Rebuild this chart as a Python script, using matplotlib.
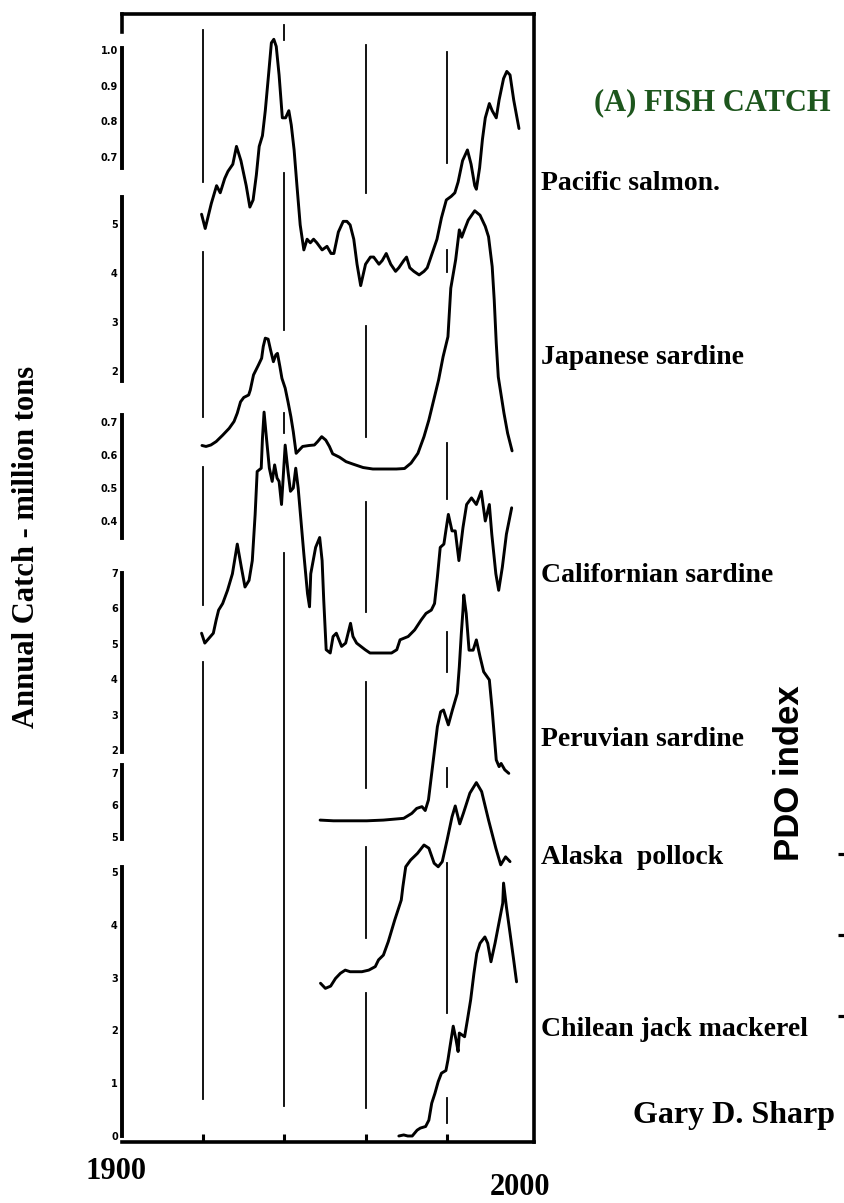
import matplotlib
matplotlib.use("Agg")
import matplotlib.pyplot as plt

# ── data (year, catch in the units of each scale bar) ──
GRID_YEARS = [1920, 1940, 1960, 1980]

SALMON = [
    (1919.6, 0.54), (1920.5, 0.50), (1922.0, 0.57), (1923.3, 0.62), (1924.2, 0.60),
    (1925.3, 0.64), (1926.1, 0.66), (1927.3, 0.68), (1928.2, 0.73), (1929.3, 0.69),
    (1930.6, 0.62), (1931.5, 0.56), (1932.3, 0.58), (1933.1, 0.65), (1933.8, 0.73),
    (1934.6, 0.76), (1935.3, 0.83), (1936.1, 0.93), (1936.8, 1.02), (1937.4, 1.03),
    (1938.0, 1.01), (1938.7, 0.93), (1939.5, 0.81), (1940.3, 0.81), (1941.1, 0.83),
    (1941.7, 0.79), (1942.4, 0.72), (1943.1, 0.62), (1943.9, 0.51), (1944.8, 0.44),
    (1945.6, 0.47), (1946.4, 0.46), (1947.2, 0.47), (1948.0, 0.46), (1949.3, 0.44),
    (1950.5, 0.45), (1951.5, 0.43), (1952.2, 0.43), (1953.3, 0.49), (1954.5, 0.52),
    (1955.4, 0.52), (1956.2, 0.51), (1957.1, 0.47), (1957.9, 0.40), (1958.8, 0.34),
    (1960.0, 0.40), (1961.2, 0.42), (1962.0, 0.42), (1963.3, 0.40), (1964.1, 0.41),
    (1965.1, 0.43), (1966.2, 0.40), (1967.4, 0.38), (1968.2, 0.39), (1969.4, 0.41),
    (1970.1, 0.42), (1970.9, 0.39), (1971.9, 0.38), (1973.2, 0.37), (1974.4, 0.38),
    (1975.2, 0.39), (1976.4, 0.43), (1977.6, 0.47), (1978.7, 0.53), (1979.9, 0.58),
    (1981.1, 0.59), (1982.0, 0.60), (1982.8, 0.63), (1983.9, 0.69), (1985.1, 0.72),
    (1986.0, 0.68), (1986.9, 0.62), (1987.3, 0.61), (1988.1, 0.67), (1988.8, 0.75),
    (1989.5, 0.81), (1990.5, 0.85), (1991.2, 0.83), (1992.2, 0.81), (1992.9, 0.86),
    (1994.0, 0.92), (1994.8, 0.94), (1995.6, 0.93), (1996.5, 0.86), (1997.8, 0.78),
]

JAPANESE = [
    (1919.7, 0.48), (1920.7, 0.46), (1921.9, 0.49), (1923.2, 0.56), (1924.8, 0.69),
    (1926.4, 0.83), (1927.6, 0.97), (1928.4, 1.14), (1929.2, 1.37), (1930.0, 1.46),
    (1931.2, 1.51), (1931.6, 1.61), (1932.4, 1.92), (1933.6, 2.12), (1934.4, 2.26),
    (1934.8, 2.50), (1935.3, 2.67), (1936.0, 2.65), (1936.6, 2.43), (1937.3, 2.19),
    (1937.9, 2.33), (1938.3, 2.36), (1938.9, 2.09), (1939.4, 1.85), (1940.2, 1.65),
    (1940.9, 1.37), (1941.6, 1.07), (1942.2, 0.76), (1942.9, 0.32), (1943.7, 0.39),
    (1944.5, 0.46), (1946.1, 0.48), (1947.4, 0.49), (1948.2, 0.56), (1949.2, 0.66),
    (1950.2, 0.59), (1951.1, 0.46), (1951.9, 0.31), (1953.6, 0.24), (1955.2, 0.15),
    (1956.9, 0.10), (1959.4, 0.03), (1961.8, 0.00), (1964.3, 0.00), (1967.6, 0.00),
    (1969.6, 0.01), (1971.2, 0.12), (1972.9, 0.32), (1974.4, 0.66), (1975.6, 1.00),
    (1976.8, 1.41), (1978.0, 1.82), (1979.1, 2.29), (1980.3, 2.70), (1981.0, 3.69),
    (1982.2, 4.27), (1983.1, 4.88), (1983.7, 4.73), (1984.5, 4.91), (1985.3, 5.08),
    (1986.9, 5.27), (1988.2, 5.18), (1989.5, 4.95), (1990.3, 4.74), (1991.2, 4.13),
    (1991.7, 3.45), (1992.2, 2.57), (1992.7, 1.88), (1994.1, 1.14), (1995.0, 0.73),
    (1996.1, 0.37),
]

CALIFORNIAN = [
    (1919.6, 0.06), (1920.4, 0.03), (1922.5, 0.06), (1923.2, 0.10), (1923.8, 0.13),
    (1924.8, 0.15), (1926.0, 0.19), (1927.2, 0.24), (1928.4, 0.33), (1929.4, 0.26),
    (1930.3, 0.20), (1931.3, 0.22), (1932.1, 0.28), (1932.8, 0.42), (1933.3, 0.55),
    (1934.3, 0.56), (1934.6, 0.65), (1935.0, 0.73), (1935.6, 0.65), (1936.3, 0.56),
    (1937.0, 0.52), (1937.6, 0.57), (1938.2, 0.53), (1938.7, 0.52), (1939.3, 0.45),
    (1939.8, 0.55), (1940.2, 0.63), (1940.9, 0.55), (1941.5, 0.49), (1942.2, 0.50),
    (1942.8, 0.56), (1943.4, 0.50), (1944.1, 0.40), (1944.8, 0.30), (1945.7, 0.18),
    (1946.2, 0.14), (1946.5, 0.24), (1947.7, 0.32), (1948.7, 0.35), (1949.3, 0.28),
    (1949.7, 0.16), (1949.9, 0.11), (1950.3, 0.01), (1951.3, 0.00), (1952.0, 0.05),
    (1952.8, 0.06), (1954.1, 0.02), (1955.1, 0.03), (1956.3, 0.09), (1956.9, 0.05),
    (1957.8, 0.03), (1959.9, 0.01), (1961.1, 0.00), (1962.3, 0.00), (1963.2, 0.00),
    (1966.4, 0.00), (1967.7, 0.01), (1968.5, 0.04), (1970.5, 0.05), (1972.1, 0.07),
    (1973.7, 0.10), (1974.9, 0.12), (1976.2, 0.13), (1977.0, 0.15), (1977.7, 0.23),
    (1978.4, 0.32), (1979.3, 0.33), (1979.9, 0.38), (1980.4, 0.42), (1981.3, 0.37),
    (1982.1, 0.37), (1983.0, 0.28), (1984.0, 0.38), (1984.9, 0.45), (1986.1, 0.47),
    (1987.3, 0.45), (1988.5, 0.49), (1989.5, 0.40), (1990.5, 0.45), (1991.1, 0.36),
    (1992.1, 0.24), (1992.8, 0.19), (1993.7, 0.26), (1994.7, 0.36), (1996.0, 0.44),
]

PERUVIAN = [
    (1948.8, 0.02), (1952.1, 0.00), (1956.2, 0.00), (1960.3, 0.00), (1964.4, 0.02),
    (1969.4, 0.07), (1971.4, 0.21), (1972.6, 0.35), (1973.9, 0.40), (1974.7, 0.29),
    (1975.5, 0.59), (1976.2, 1.25), (1977.0, 2.00), (1977.7, 2.66), (1978.5, 3.08),
    (1979.2, 3.13), (1980.4, 2.71), (1981.4, 3.13), (1982.6, 3.60), (1983.1, 4.35),
    (1983.6, 5.30), (1984.0, 5.95), (1984.2, 6.38), (1984.8, 5.86), (1985.5, 4.82),
    (1986.5, 4.82), (1987.3, 5.11), (1988.2, 4.64), (1989.1, 4.21), (1990.5, 3.98),
    (1991.2, 3.13), (1992.2, 1.72), (1992.9, 1.53), (1993.4, 1.62), (1994.3, 1.44),
    (1995.3, 1.34),
]

POLLOCK = [
    (1948.9, 0.43), (1950.1, 0.27), (1951.4, 0.34), (1952.6, 0.58), (1953.8, 0.74),
    (1955.0, 0.84), (1956.2, 0.79), (1959.1, 0.79), (1960.8, 0.84), (1962.4, 0.95),
    (1963.2, 1.16), (1964.4, 1.31), (1965.6, 1.73), (1967.2, 2.41), (1968.8, 3.03),
    (1969.2, 3.45), (1969.9, 4.07), (1971.1, 4.28), (1972.8, 4.49), (1974.4, 4.75),
    (1975.6, 4.65), (1976.9, 4.18), (1977.9, 4.07), (1978.9, 4.23), (1980.1, 4.91),
    (1981.3, 5.63), (1982.1, 5.97), (1983.2, 5.41), (1984.1, 5.74), (1985.7, 6.37),
    (1987.3, 6.70), (1988.6, 6.42), (1990.3, 5.53), (1992.1, 4.65), (1993.3, 4.13),
    (1994.5, 4.38), (1995.6, 4.23),
]

MACKEREL = [
    (1968.2, 0.00), (1969.4, 0.02), (1970.4, 0.00), (1971.5, 0.00), (1972.7, 0.11),
    (1973.5, 0.15), (1974.8, 0.18), (1975.6, 0.30), (1976.3, 0.62), (1977.1, 0.81),
    (1977.9, 1.03), (1978.7, 1.19), (1979.8, 1.24), (1980.3, 1.44), (1980.8, 1.69),
    (1981.6, 2.08), (1982.3, 1.82), (1982.8, 1.60), (1983.1, 1.95), (1984.4, 1.88),
    (1985.1, 2.20), (1985.9, 2.58), (1986.7, 3.08), (1987.4, 3.46), (1988.2, 3.65),
    (1989.4, 3.77), (1990.1, 3.65), (1990.9, 3.30), (1991.9, 3.65), (1993.0, 4.09),
    (1993.8, 4.41), (1994.0, 4.79), (1994.7, 4.34), (1995.6, 3.84), (1996.5, 3.33),
    (1997.2, 2.92),
]

SALMON_TICKS = [0.7, 0.8, 0.9, 1.0]
JAPANESE_TICKS = [2, 3, 4, 5]
CALIFORNIAN_TICKS = [0.4, 0.5, 0.6, 0.7]
PERUVIAN_TICKS = [2, 3, 4, 5, 6, 7]
POLLOCK_TICKS = [5, 6, 7]
MACKEREL_TICKS = [0, 1, 2, 3, 4, 5]

LABELS = ["Pacific salmon.", "Japanese sardine", "Californian sardine",
          "Peruvian sardine", "Alaska  pollock", "Chilean jack mackerel"]

# ── layout (pixels of the 845 x 1203 canvas) ──
W, H = 845, 1203
PLOT_L, PLOT_R, PLOT_T, PLOT_B = 122, 534, 14, 1142
X_MIN, X_MAX = 1900, 2001.5

def fx(px):
    return px / W

def fy(py):
    return 1 - py / H

plt.rcParams["font.family"] = ["Liberation Serif", "DejaVu Serif"]
fig = plt.figure(figsize=(W / 100, H / 100), dpi=100)
rect = [fx(PLOT_L), fy(PLOT_B), (PLOT_R - PLOT_L) / W, (PLOT_B - PLOT_T) / H]

# frame + broken decade lines
main = fig.add_axes(rect)
main.set_xlim(X_MIN, X_MAX)
main.set_ylim(0, 1)
main.set_yticks([])
main.set_xticks(GRID_YEARS)
main.set_xticklabels([])
main.tick_params(axis="x", direction="in", length=6, width=2.2)
for side in ["top", "right", "bottom", "left"]:
    main.spines[side].set_linewidth(2.6)
main.spines["left"].set_bounds(1 - 18 / (PLOT_B - PLOT_T), 1)

# pixel rows where the scanned decade lines are visible
GRID_SEGMENTS = {
    1920: [(30, 182), (252, 417), (467, 605), (662, 1099)],
    1940: [(25, 40), (173, 330), (413, 433), (553, 1106)],
    1960: [(45, 193), (326, 437), (502, 612), (682, 788), (847, 938), (993, 1108)],
    1980: [(52, 163), (250, 272), (443, 499), (632, 672), (768, 787), (863, 1013), (1098, 1123)],
}
span = PLOT_B - PLOT_T
for yr in GRID_YEARS:
    for top, bot in GRID_SEGMENTS[yr]:
        main.axvline(yr, ymin=(PLOT_B - bot) / span, ymax=(PLOT_B - top) / span,
                     color="black", lw=1.3)

main.annotate("1900", xy=(1900, 0), xycoords=main.get_xaxis_transform(),
              xytext=(-4, -21), textcoords="offset points",
              ha="center", va="center", fontsize=22, fontweight="bold")
main.annotate("2000", xy=(2000, 0), xycoords=main.get_xaxis_transform(),
              xytext=(-6, -33), textcoords="offset points",
              ha="center", va="center", fontsize=22, fontweight="bold")

# one transparent axes per species, each with its own scale bar on the left
# (anchor value, pixel row of that value, pixels per unit, spine bounds)
series = [
    (SALMON, SALMON_TICKS, ["1.0", "0.9", "0.8", "0.7"][::-1], (1.0, 50, 357), (0.67, 1.005)),
    (JAPANESE, JAPANESE_TICKS, ["2", "3", "4", "5"], (5, 224, 49), (1.8, 5.55)),
    (CALIFORNIAN, CALIFORNIAN_TICKS, ["0.4", "0.5", "0.6", "0.7"], (0.7, 422, 330), (0.35, 0.72)),
    (PERUVIAN, PERUVIAN_TICKS, ["2", "3", "4", "5", "6", "7"], (7, 573, 35.4), (1.95, 7.0)),
    (POLLOCK, POLLOCK_TICKS, ["5", "6", "7"], (7, 773, 32), (4.95, 7.25)),
    (MACKEREL, MACKEREL_TICKS, ["0", "1", "2", "3", "4", "5"], (5, 872, 52.8), (0, 5.1)),
]

for data, ticks, tlabels, (v0, y0, k), bounds in series:
    ax = fig.add_axes(rect, sharex=main)
    ax.patch.set_alpha(0)
    ax.set_ylim(v0 - (PLOT_B - y0) / k, v0 + (y0 - PLOT_T) / k)
    for side in ["top", "right", "bottom"]:
        ax.spines[side].set_visible(False)
    ax.spines["left"].set_linewidth(2.8)
    ax.spines["left"].set_bounds(*bounds)
    ax.tick_params(axis="x", bottom=False, labelbottom=False)
    ax.set_yticks(ticks, labels=tlabels, fontsize=7, fontweight="bold",
                  family="DejaVu Sans")
    ax.tick_params(axis="y", length=0, pad=3)
    years = [p[0] for p in data]
    vals = [p[1] for p in data]
    ax.plot(years, vals, color="black", lw=2.1, solid_joinstyle="round",
            solid_capstyle="round")

# species names to the right of the frame
label_rows = [183, 358, 575, 740, 857, 1030]
for text, row in zip(LABELS, label_rows):
    fig.text(fx(541), fy(row), text, ha="left", va="center",
             fontsize=20, fontweight="bold")

fig.text(fx(712), fy(103), "(A) FISH CATCH", ha="center", va="center",
         fontsize=22, fontweight="bold", color="#1d561d")
fig.text(fx(734), fy(1115), "Gary D. Sharp", ha="center", va="center",
         fontsize=23, fontweight="bold")
fig.text(fx(27), fy(547), "Annual Catch - million tons", rotation=90,
         ha="center", va="center", fontsize=22, fontweight="bold")
fig.text(fx(790), fy(773), "PDO index", rotation=90, ha="center", va="center",
         fontsize=25, fontweight="bold", family="Liberation Sans")

# cut-off tick marks of the neighbouring PDO panel
pdo = fig.add_axes([fx(846), fy(1040), 0.05, 210 / H])
pdo.set_ylim(-1.3, 1.3)
pdo.set_yticks([-1, 0, 1], labels=[])
pdo.set_xticks([])
pdo.tick_params(axis="y", direction="out", length=6, width=2.3)
for side in pdo.spines.values():
    side.set_visible(False)

fig.savefig("out.png", dpi=100)
